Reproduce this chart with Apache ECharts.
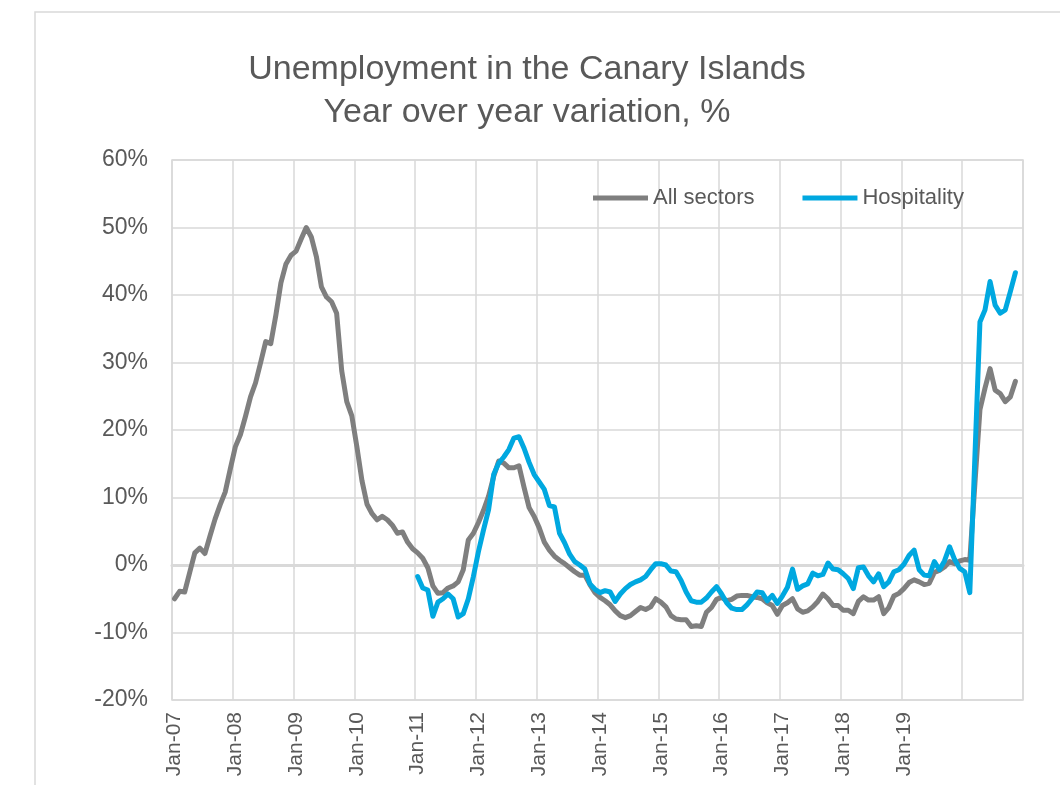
<!DOCTYPE html>
<html>
<head>
<meta charset="utf-8">
<script src="https://cdn.jsdelivr.net/npm/echarts@6/dist/echarts.min.js"></script>
<style>
html,body{margin:0;padding:0;background:#ffffff;}
#chart{width:1060px;height:785px;}
</style>
</head>
<body>
<div id="chart"></div>
<script>
// ---- data ----
const monthNames = ['Jan','Feb','Mar','Apr','May','Jun','Jul','Aug','Sep','Oct','Nov','Dec'];
const yearLabels = ['07','08','09','10','11','12','13','14','15','16','17','18','19','20'];
const categories = [];
yearLabels.forEach(function (yy) { monthNames.forEach(function (m) { categories.push(m + '-' + yy); }); });

// x tick labels that are shown in the reference
const shownXLabels = ['Jan-07','Jan-08','Jan-09','Jan-10','Jan-11','Jan-12','Jan-13','Jan-14','Jan-15','Jan-16','Jan-17','Jan-18','Jan-19'];

// y axis ticks (%)
const yMin = -20, yMax = 60, yStep = 10;

// All sectors, Jan-07 .. Nov-20 (YoY %)
const allSectors = [
  -5.0, -3.9, -4.0, -1.1, 1.8, 2.5, 1.7, 4.3, 6.8, 8.9, 10.8, 14.2,
  17.5, 19.3, 22.0, 24.9, 27.0, 30.0, 33.1, 32.8, 37.0, 41.8, 44.6, 45.9,
  46.5, 48.3, 50.0, 48.6, 45.7, 41.2, 39.7, 39.0, 37.3, 28.8, 24.2, 22.1,
  17.5, 12.5, 9.0, 7.6, 6.7, 7.2, 6.7, 5.9, 4.7, 4.9, 3.4, 2.4,
  1.8, 1.0, -0.4, -3.1, -4.2, -4.1, -3.4, -3.1, -2.5, -0.7, 3.7, 4.7,
  6.3, 8.1, 10.2, 13.1, 15.4, 15.1, 14.4, 14.4, 14.7, 11.5, 8.5, 7.2,
  5.5, 3.4, 2.2, 1.3, 0.7, 0.2, -0.4, -1.0, -1.5, -1.5, -2.9, -4.1,
  -4.8, -5.3, -5.9, -6.8, -7.5, -7.8, -7.5, -6.9, -6.3, -6.6, -6.2, -5.0,
  -5.5, -6.2, -7.5, -8.0, -8.1, -8.1, -9.1, -9.0, -9.1, -7.0, -6.3, -5.1,
  -4.8, -5.3, -5.1, -4.6, -4.5, -4.5, -4.7, -4.8, -5.0, -5.6, -6.0, -7.3,
  -6.0, -5.6, -5.0, -6.5, -7.0, -6.8, -6.2, -5.4, -4.3, -5.0, -6.0, -6.0,
  -6.7, -6.7, -7.2, -5.4, -4.7, -5.2, -5.2, -4.7, -7.2, -6.3, -4.6, -4.2,
  -3.5, -2.6, -2.2, -2.5, -2.9, -2.7, -1.1, -0.8, -0.3, 0.5, 0.2, 0.6,
  0.8, 0.7, 12.0, 23.0, 26.2, 29.1, 25.9, 25.4, 24.2, 24.9, 27.2, null
];

// Hospitality, starts Jan-11 .. Nov-20 (YoY %)
const hospitality = [
  null, null, null, null, null, null, null, null, null, null, null, null,
  null, null, null, null, null, null, null, null, null, null, null, null,
  null, null, null, null, null, null, null, null, null, null, null, null,
  null, null, null, null, null, null, null, null, null, null, null, null,
  -1.7, -3.4, -3.7, -7.6, -5.5, -5.0, -4.3, -5.0, -7.7, -7.2, -5.0, -1.7,
  2.0, 5.2, 8.2, 13.4, 15.1, 16.0, 17.1, 18.8, 19.0, 17.3, 15.2, 13.4,
  12.3, 11.2, 8.8, 8.6, 4.7, 3.3, 1.6, 0.5, 0.0, -0.6, -2.8, -3.6,
  -4.1, -3.8, -4.0, -5.4, -4.3, -3.5, -2.9, -2.5, -2.2, -1.7, -0.7, 0.2,
  0.2, 0.0, -0.9, -1.0, -2.3, -4.0, -5.3, -5.5, -5.5, -4.9, -4.0, -3.2,
  -4.3, -5.6, -6.4, -6.6, -6.6, -5.9, -5.0, -4.0, -4.1, -5.3, -4.5, -5.7,
  -4.6, -3.3, -0.6, -3.6, -3.1, -2.8, -1.2, -1.6, -1.4, 0.3, -0.6, -0.7,
  -1.3, -2.0, -3.5, -0.4, -0.3, -1.6, -2.5, -1.3, -3.2, -2.5, -1.0, -0.7,
  0.1, 1.4, 2.2, -0.7, -1.5, -1.6, 0.5, -0.7, 0.6, 2.7, 0.8, -0.5,
  -1.0, -4.1, 16.0, 36.0, 37.8, 42.0, 38.5, 37.3, 37.8, 40.5, 43.3, null
];

const seriesNames = ['All sectors', 'Hospitality'];

// ---- chart ----
const FONT = 'Liberation Sans';
const TXT = '#595959';
const GRIDC = '#d9d9d9';

const chart = echarts.init(document.getElementById('chart'), null, {renderer: 'canvas'});
chart.setOption({
  backgroundColor: '#ffffff',
  animation: false,
  graphic: [{
    type: 'rect', silent: true, z: -10,
    shape: {x: 35, y: 12, width: 1100, height: 900},
    style: {fill: 'none', stroke: GRIDC, lineWidth: 1.5}
  }],
  title: {
    text: 'Unemployment in the Canary Islands\nYear over year variation, %',
    left: 522, top: 43, textAlign: 'center',
    textStyle: {fontFamily: FONT, fontSize: 34, fontWeight: 'normal', color: TXT, lineHeight: 43}
  },
  legend: {
    data: seriesNames,
    left: 588, top: 182,
    icon: 'rect', itemWidth: 55, itemHeight: 5, itemGap: 48,
    textStyle: {fontFamily: FONT, fontSize: 22, color: TXT}
  },
  grid: {
    left: 172, top: 160, width: 851, height: 540,
    show: true, borderColor: GRIDC, borderWidth: 1.5, containLabel: false
  },
  xAxis: [{
    type: 'category', data: categories, boundaryGap: true, position: 'bottom',
    axisLine: {show: false, onZero: false},
    axisTick: {show: false},
    axisLabel: {
      rotate: 90, margin: 12, fontFamily: FONT, fontSize: 21, color: TXT,
      interval: function (idx, val) { return shownXLabels.indexOf(val) >= 0; }
    },
    splitLine: {show: true, interval: 11, lineStyle: {color: GRIDC, width: 1.5}}
  }, {
    type: 'category', data: categories, boundaryGap: true, position: 'bottom',
    axisLine: {show: true, onZero: true, lineStyle: {color: GRIDC, width: 3}},
    axisTick: {show: true, interval: 11, length: 4, lineStyle: {color: GRIDC, width: 1.5}},
    axisLabel: {show: false},
    splitLine: {show: false}
  }],
  yAxis: {
    type: 'value', min: yMin, max: yMax, interval: yStep,
    axisLine: {show: false}, axisTick: {show: false},
    axisLabel: {formatter: '{value}%', fontFamily: FONT, fontSize: 23, color: TXT, margin: 24},
    splitLine: {show: true, lineStyle: {color: GRIDC, width: 1.5}}
  },
  series: [{
    name: seriesNames[0], type: 'line', data: allSectors, xAxisIndex: 0,
    symbol: 'none', showSymbol: false, connectNulls: false,
    itemStyle: {color: '#7f7f7f'},
    lineStyle: {color: '#7f7f7f', width: 5, join: 'round', cap: 'round'}
  }, {
    name: seriesNames[1], type: 'line', data: hospitality, xAxisIndex: 0,
    symbol: 'none', showSymbol: false, connectNulls: false,
    itemStyle: {color: '#00a8e0'},
    lineStyle: {color: '#00a8e0', width: 5, join: 'round', cap: 'round'}
  }]
});
</script>
</body>
</html>
